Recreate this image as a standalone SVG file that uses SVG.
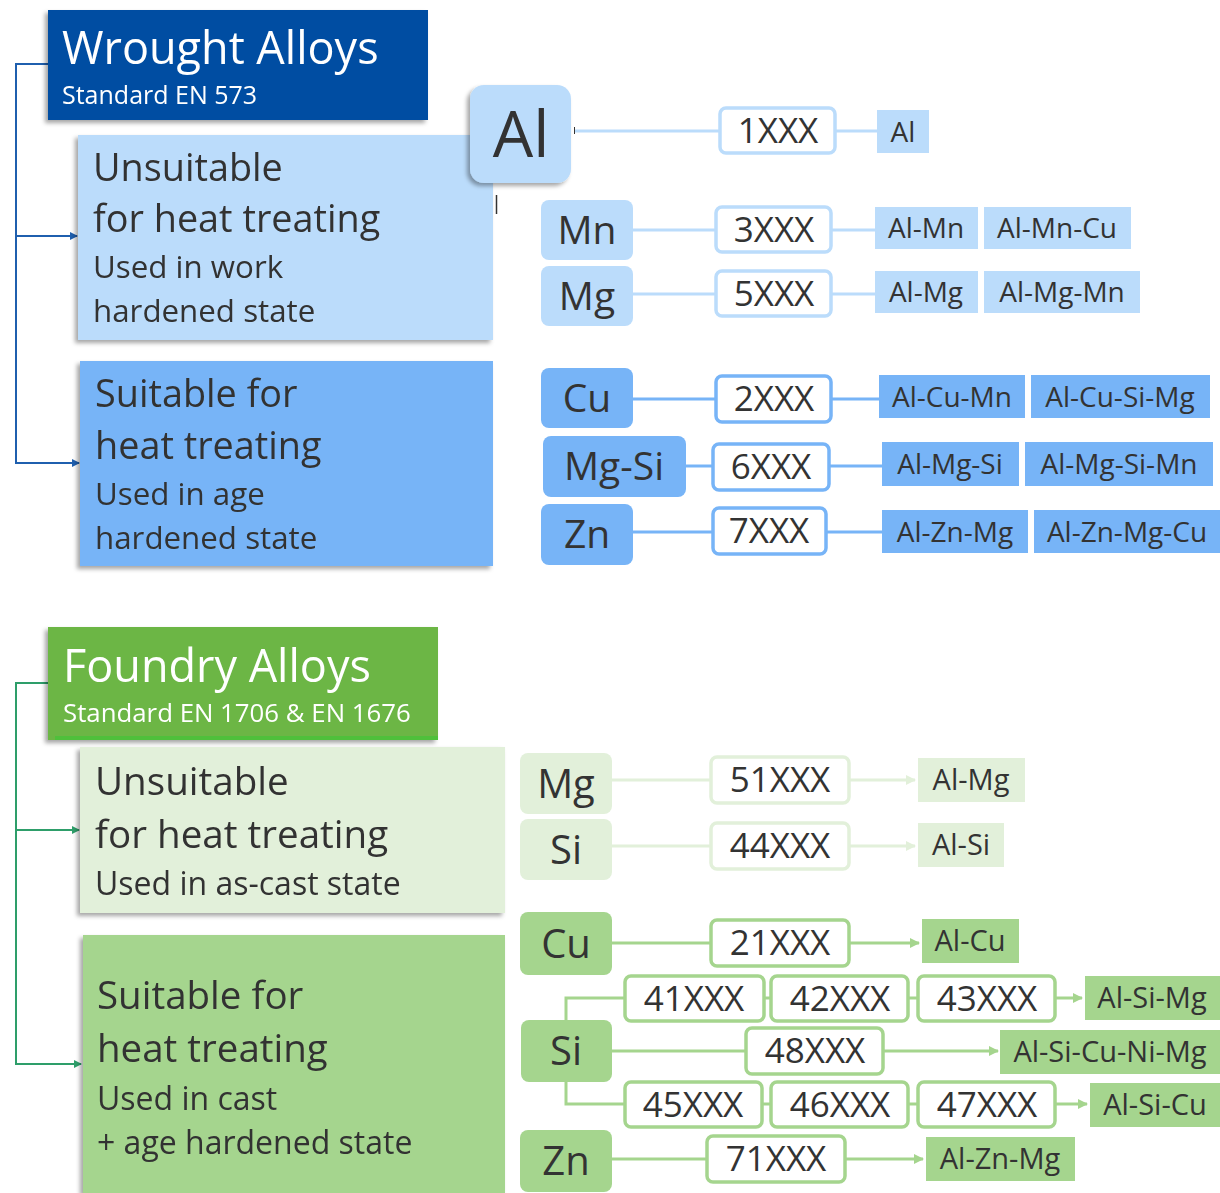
<svg xmlns="http://www.w3.org/2000/svg" width="1220" height="1193" viewBox="0 0 1220 1193">
<style>
.t{font-family:"Open Sans","Noto Sans",sans-serif;fill:#333}
.big{font-family:"Open Sans","Noto Sans",sans-serif;fill:#333}
.hdr{font-family:"Open Sans","Noto Sans",sans-serif;fill:#fff}
.code-t{font-size:35px}
.lw{font-size:28px}
.lf{font-size:29px}
.ew{font-size:39px}
.ef{font-size:40px}
.lb{fill:#bbdcfb}
.mb{fill:#77b4f7}
.lg{fill:#e2f0da}
.mg{fill:#a5d58e}
.code{fill:#fff;stroke-width:3.5}
.c1{stroke:#bbdcfb;stroke-width:3;fill:none}
.c2{stroke:#77b4f7;stroke-width:3;fill:none}
.c3{stroke:#e2f0da;stroke-width:3;fill:none}
.c4{stroke:#a5d58e;stroke-width:3;fill:none}
</style>
<defs>
<filter id="sh" x="-10%" y="-10%" width="120%" height="130%">
<feDropShadow dx="-3" dy="3" stdDeviation="2" flood-color="#000" flood-opacity="0.35"/>
</filter>
<marker id="ab" markerWidth="8" markerHeight="8" refX="7" refY="4" orient="auto" markerUnits="userSpaceOnUse"><path d="M0,0 L8,4 L0,8 Z" fill="#1f5fae"/></marker>
<marker id="ag" markerWidth="8" markerHeight="8" refX="7" refY="4" orient="auto" markerUnits="userSpaceOnUse"><path d="M0,0 L8,4 L0,8 Z" fill="#2e9e6a"/></marker>
<marker id="a3" markerWidth="10" markerHeight="10" refX="9" refY="5" orient="auto" markerUnits="userSpaceOnUse"><path d="M0,0 L10,5 L0,10 Z" fill="#e2f0da"/></marker>
<marker id="a4" markerWidth="10" markerHeight="10" refX="9" refY="5" orient="auto" markerUnits="userSpaceOnUse"><path d="M0,0 L10,5 L0,10 Z" fill="#a5d58e"/></marker>
</defs>
<rect width="1220" height="1193" fill="#fff"/>

<g id="connectors">
<path d="M48,64 H16 V463 H79" stroke="#1f5fae" stroke-width="2" fill="none" marker-end="url(#ab)"/>
<path d="M16,236 H77" stroke="#1f5fae" stroke-width="2" fill="none" marker-end="url(#ab)"/>
<path d="M48,683 H16 V1064 H81" stroke="#2e9e6a" stroke-width="2" fill="none" marker-end="url(#ag)"/>
<path d="M16,830 H79" stroke="#2e9e6a" stroke-width="2" fill="none" marker-end="url(#ag)"/>
<line x1="575" y1="131" x2="720" y2="131" class="c1"/>
<line x1="835" y1="131" x2="877" y2="131" class="c1"/>
<line x1="633" y1="230" x2="716" y2="230" class="c1"/>
<line x1="831" y1="230" x2="875" y2="230" class="c1"/>
<line x1="633" y1="294" x2="716" y2="294" class="c1"/>
<line x1="831" y1="294" x2="875" y2="294" class="c1"/>
<line x1="633" y1="399" x2="716" y2="399" class="c2"/>
<line x1="831" y1="399" x2="879" y2="399" class="c2"/>
<line x1="686" y1="466" x2="713" y2="466" class="c2"/>
<line x1="829" y1="466" x2="882" y2="466" class="c2"/>
<line x1="633" y1="532" x2="713" y2="532" class="c2"/>
<line x1="826" y1="532" x2="882" y2="532" class="c2"/>
<line x1="612" y1="780" x2="711" y2="780" class="c3"/>
<line x1="849" y1="780" x2="915" y2="780" class="c3" marker-end="url(#a3)"/>
<line x1="612" y1="846" x2="711" y2="846" class="c3"/>
<line x1="849" y1="846" x2="915" y2="846" class="c3" marker-end="url(#a3)"/>
<line x1="612" y1="943" x2="711" y2="943" class="c4"/>
<line x1="849" y1="943" x2="919" y2="943" class="c4" marker-end="url(#a4)"/>
<path d="M566,1020 V998 H625" class="c4"/>
<line x1="764" y1="998" x2="771" y2="998" class="c4"/>
<line x1="908" y1="998" x2="918" y2="998" class="c4"/>
<line x1="1055" y1="998" x2="1082" y2="998" class="c4" marker-end="url(#a4)"/>
<line x1="612" y1="1051" x2="746" y2="1051" class="c4"/>
<line x1="883" y1="1051" x2="998" y2="1051" class="c4" marker-end="url(#a4)"/>
<path d="M566,1082 V1104 H625" class="c4"/>
<line x1="762" y1="1104" x2="771" y2="1104" class="c4"/>
<line x1="908" y1="1104" x2="918" y2="1104" class="c4"/>
<line x1="1055" y1="1104" x2="1087" y2="1104" class="c4" marker-end="url(#a4)"/>
<line x1="612" y1="1159" x2="707" y2="1159" class="c4"/>
<line x1="845" y1="1159" x2="923" y2="1159" class="c4" marker-end="url(#a4)"/>
<line x1="574.5" y1="127" x2="574.5" y2="134" stroke="#333" stroke-width="1"/>
<line x1="496.5" y1="195" x2="496.5" y2="214" stroke="#333" stroke-width="1.5"/>
</g>

<g id="wrought-header" filter="url(#sh)">
<rect x="48" y="10" width="380" height="110" fill="#034ea2"/>
<text class="hdr" x="62" y="64" font-size="45">Wrought Alloys</text>
<text class="hdr" x="62" y="104" font-size="25">Standard EN 573</text>
</g>
<g id="wrought-unsuitable" filter="url(#sh)">
<rect x="78" y="135" width="415" height="205" class="lb"/>
<text class="big" font-size="37.8"><tspan x="93" y="181">Unsuitable</tspan><tspan x="93" y="232">for heat treating</tspan></text>
<text class="big" font-size="31.3"><tspan x="93" y="278">Used in work</tspan><tspan x="93" y="322">hardened state</tspan></text>
</g>
<g id="wrought-suitable" filter="url(#sh)">
<rect x="80" y="361" width="413" height="205" class="mb"/>
<text class="big" font-size="37.8"><tspan x="95" y="407">Suitable for</tspan><tspan x="95" y="459">heat treating</tspan></text>
<text class="big" font-size="31.3"><tspan x="95" y="505">Used in age</tspan><tspan x="95" y="549">hardened state</tspan></text>
</g>
<g id="al" filter="url(#sh)">
<rect x="470" y="85" width="101" height="98" rx="14" class="lb"/>
<text class="t" x="521" y="157" font-size="64" text-anchor="middle">Al</text>
</g>

<g id="w-1xxx"><rect x="720" y="108" width="115" height="45" rx="6" class="code" stroke="#bbdcfb"/><text class="t code-t" x="778" y="143" text-anchor="middle">1XXX</text></g>
<g id="w-al"><rect x="877" y="110" width="52" height="43" class="lb"/><text class="t lw" x="903" y="141.5" text-anchor="middle">Al</text></g>

<g id="mn"><rect x="541" y="200" width="92" height="60" rx="8" class="lb"/><text class="t ew" x="587" y="244" text-anchor="middle">Mn</text></g>
<g id="w-3xxx"><rect x="716" y="207" width="115" height="45" rx="6" class="code" stroke="#bbdcfb"/><text class="t code-t" x="774" y="242" text-anchor="middle">3XXX</text></g>
<g id="al-mn"><rect x="875" y="207" width="103" height="42" class="lb"/><text class="t lw" x="926" y="238" text-anchor="middle">Al-Mn</text></g>
<g id="al-mn-cu"><rect x="984" y="207" width="147" height="42" class="lb"/><text class="t lw" x="1057" y="238" text-anchor="middle">Al-Mn-Cu</text></g>

<g id="mg"><rect x="541" y="266" width="92" height="60" rx="8" class="lb"/><text class="t ew" x="587" y="310" text-anchor="middle">Mg</text></g>
<g id="w-5xxx"><rect x="716" y="271" width="115" height="45" rx="6" class="code" stroke="#bbdcfb"/><text class="t code-t" x="774" y="306" text-anchor="middle">5XXX</text></g>
<g id="al-mg"><rect x="875" y="271" width="103" height="42" class="lb"/><text class="t lw" x="926" y="302" text-anchor="middle">Al-Mg</text></g>
<g id="al-mg-mn"><rect x="984" y="271" width="156" height="42" class="lb"/><text class="t lw" x="1062" y="302" text-anchor="middle">Al-Mg-Mn</text></g>

<g id="cu"><rect x="541" y="368" width="92" height="60" rx="8" class="mb"/><text class="t ew" x="587" y="412" text-anchor="middle">Cu</text></g>
<g id="w-2xxx"><rect x="716" y="376" width="115" height="46" rx="6" class="code" stroke="#77b4f7"/><text class="t code-t" x="774" y="411" text-anchor="middle">2XXX</text></g>
<g id="al-cu-mn"><rect x="879" y="375" width="146" height="43" class="mb"/><text class="t lw" x="952" y="406.5" text-anchor="middle">Al-Cu-Mn</text></g>
<g id="al-cu-si-mg"><rect x="1031" y="375" width="179" height="43" class="mb"/><text class="t lw" x="1120" y="406.5" text-anchor="middle">Al-Cu-Si-Mg</text></g>

<g id="mg-si"><rect x="543" y="436" width="143" height="61" rx="8" class="mb"/><text class="t ew" x="614" y="480" text-anchor="middle">Mg-Si</text></g>
<g id="w-6xxx"><rect x="713" y="444" width="116" height="46" rx="6" class="code" stroke="#77b4f7"/><text class="t code-t" x="771" y="479" text-anchor="middle">6XXX</text></g>
<g id="al-mg-si"><rect x="882" y="442" width="137" height="44" class="mb"/><text class="t lw" x="950" y="474" text-anchor="middle">Al-Mg-Si</text></g>
<g id="al-mg-si-mn"><rect x="1025" y="442" width="188" height="44" class="mb"/><text class="t lw" x="1119" y="474" text-anchor="middle">Al-Mg-Si-Mn</text></g>

<g id="zn"><rect x="541" y="504" width="92" height="61" rx="8" class="mb"/><text class="t ew" x="587" y="548" text-anchor="middle">Zn</text></g>
<g id="w-7xxx"><rect x="713" y="508" width="113" height="46" rx="6" class="code" stroke="#77b4f7"/><text class="t code-t" x="769" y="543" text-anchor="middle">7XXX</text></g>
<g id="al-zn-mg"><rect x="882" y="510" width="146" height="43" class="mb"/><text class="t lw" x="955" y="541.5" text-anchor="middle">Al-Zn-Mg</text></g>
<g id="al-zn-mg-cu"><rect x="1034" y="510" width="186" height="43" class="mb"/><text class="t lw" x="1127" y="541.5" text-anchor="middle">Al-Zn-Mg-Cu</text></g>

<g id="foundry-header" filter="url(#sh)">
<rect x="48" y="627" width="390" height="113" fill="#6cb645"/>
<rect x="55" y="736" width="383" height="4" fill="#4fc03a"/>
<text class="hdr" x="63" y="682" font-size="45">Foundry Alloys</text>
<text class="hdr" x="63" y="722" font-size="25.8">Standard EN 1706 &amp; EN 1676</text>
</g>
<g id="foundry-unsuitable" filter="url(#sh)">
<rect x="80" y="747" width="425" height="166" class="lg"/>
<text class="big" font-size="38.6"><tspan x="95" y="795">Unsuitable</tspan><tspan x="95" y="848">for heat treating</tspan></text>
<text class="big" font-size="32" x="95" y="895">Used in as-cast state</text>
</g>
<g id="foundry-suitable" filter="url(#sh)">
<rect x="83" y="935" width="422" height="258" class="mg"/>
<text class="big" font-size="38.5"><tspan x="97" y="1009">Suitable for</tspan><tspan x="97" y="1062">heat treating</tspan></text>
<text class="big" font-size="32"><tspan x="97" y="1110">Used in cast</tspan><tspan x="97" y="1154">+ age hardened state</tspan></text>
</g>

<g id="f-mg"><rect x="520" y="753" width="92" height="61" rx="8" class="lg"/><text class="t ef" x="566" y="798" text-anchor="middle">Mg</text></g>
<g id="f-51xxx"><rect x="711" y="757" width="138" height="46" rx="6" class="code" stroke="#e2f0da"/><text class="t code-t" x="780" y="792" text-anchor="middle">51XXX</text></g>
<g id="f-al-mg"><rect x="918" y="758" width="107" height="44" class="lg"/><text class="t lf" x="971" y="790" text-anchor="middle">Al-Mg</text></g>

<g id="f-si1"><rect x="520" y="819" width="92" height="61" rx="8" class="lg"/><text class="t ef" x="566" y="864" text-anchor="middle">Si</text></g>
<g id="f-44xxx"><rect x="711" y="823" width="138" height="46" rx="6" class="code" stroke="#e2f0da"/><text class="t code-t" x="780" y="858" text-anchor="middle">44XXX</text></g>
<g id="f-al-si"><rect x="918" y="823" width="86" height="44" class="lg"/><text class="t lf" x="961" y="855" text-anchor="middle">Al-Si</text></g>

<g id="f-cu"><rect x="520" y="912" width="92" height="63" rx="8" class="mg"/><text class="t ef" x="566" y="958" text-anchor="middle">Cu</text></g>
<g id="f-21xxx"><rect x="711" y="920" width="138" height="46" rx="6" class="code" stroke="#a5d58e"/><text class="t code-t" x="780" y="955" text-anchor="middle">21XXX</text></g>
<g id="f-al-cu"><rect x="922" y="919" width="97" height="44" class="mg"/><text class="t lf" x="970" y="951" text-anchor="middle">Al-Cu</text></g>

<g id="f-si2"><rect x="521" y="1020" width="91" height="62" rx="8" class="mg"/><text class="t ef" x="566" y="1065" text-anchor="middle">Si</text></g>
<g id="f-41xxx"><rect x="625" y="976" width="139" height="45" rx="6" class="code" stroke="#a5d58e"/><text class="t code-t" x="694" y="1011" text-anchor="middle">41XXX</text></g>
<g id="f-42xxx"><rect x="771" y="976" width="137" height="45" rx="6" class="code" stroke="#a5d58e"/><text class="t code-t" x="840" y="1011" text-anchor="middle">42XXX</text></g>
<g id="f-43xxx"><rect x="918" y="976" width="137" height="45" rx="6" class="code" stroke="#a5d58e"/><text class="t code-t" x="987" y="1011" text-anchor="middle">43XXX</text></g>
<g id="f-al-si-mg"><rect x="1085" y="976" width="135" height="44" class="mg"/><text class="t lf" x="1152" y="1008" text-anchor="middle">Al-Si-Mg</text></g>
<g id="f-48xxx"><rect x="746" y="1028" width="137" height="46" rx="6" class="code" stroke="#a5d58e"/><text class="t code-t" x="815" y="1063" text-anchor="middle">48XXX</text></g>
<g id="f-al-si-cu-ni-mg"><rect x="1000" y="1030" width="220" height="44" class="mg"/><text class="t lf" x="1110" y="1062" text-anchor="middle">Al-Si-Cu-Ni-Mg</text></g>
<g id="f-45xxx"><rect x="625" y="1082" width="137" height="45" rx="6" class="code" stroke="#a5d58e"/><text class="t code-t" x="693" y="1117" text-anchor="middle">45XXX</text></g>
<g id="f-46xxx"><rect x="771" y="1082" width="137" height="45" rx="6" class="code" stroke="#a5d58e"/><text class="t code-t" x="840" y="1117" text-anchor="middle">46XXX</text></g>
<g id="f-47xxx"><rect x="918" y="1082" width="137" height="45" rx="6" class="code" stroke="#a5d58e"/><text class="t code-t" x="987" y="1117" text-anchor="middle">47XXX</text></g>
<g id="f-al-si-cu"><rect x="1090" y="1083" width="130" height="44" class="mg"/><text class="t lf" x="1155" y="1115" text-anchor="middle">Al-Si-Cu</text></g>

<g id="f-zn"><rect x="520" y="1130" width="92" height="62" rx="8" class="mg"/><text class="t ef" x="566" y="1175" text-anchor="middle">Zn</text></g>
<g id="f-71xxx"><rect x="707" y="1136" width="138" height="46" rx="6" class="code" stroke="#a5d58e"/><text class="t code-t" x="776" y="1171" text-anchor="middle">71XXX</text></g>
<g id="f-al-zn-mg"><rect x="926" y="1137" width="149" height="44" class="mg"/><text class="t lf" x="1000" y="1169" text-anchor="middle">Al-Zn-Mg</text></g>
</svg>
